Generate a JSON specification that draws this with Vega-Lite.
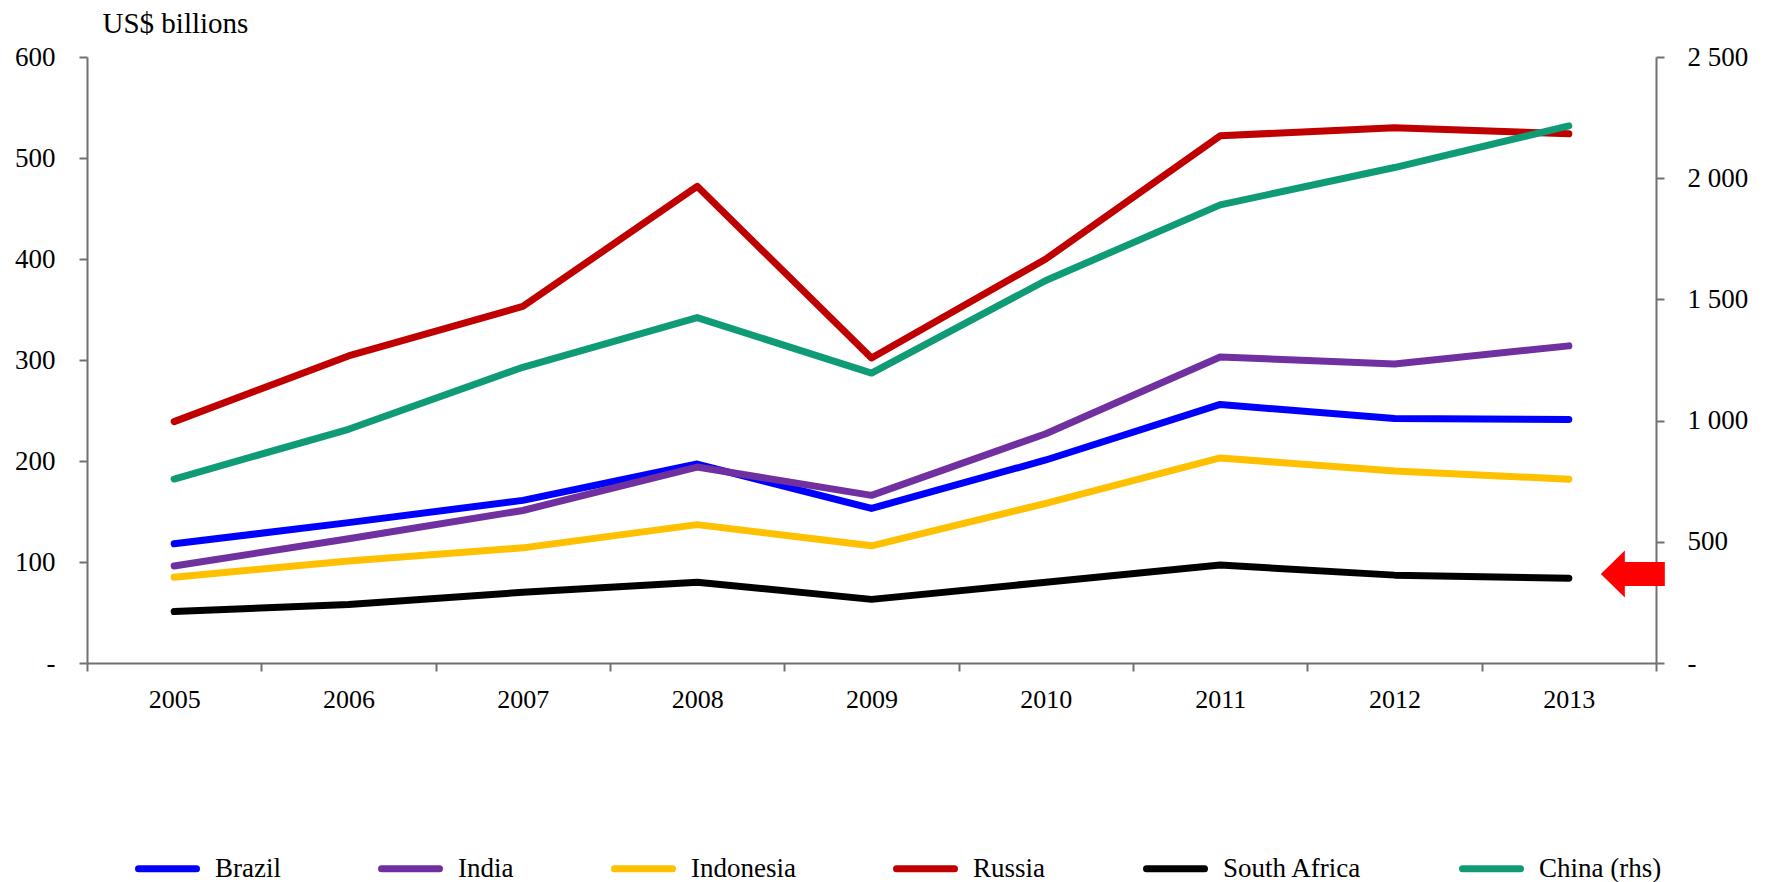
{
  "$schema": "https://vega.github.io/schema/vega-lite/v6.json",
  "autosize": {"type": "none"},
  "width": 1569,
  "height": 606,
  "padding": {"left": 87, "top": 57, "right": 110, "bottom": 219},
  "background": "white",
  "config": {
    "view": {"stroke": null},
    "font": "Liberation Serif",
    "axis": {
      "labelFont": "Liberation Serif",
      "labelFontSize": 27,
      "labelColor": "#000000",
      "domainColor": "#707070",
      "domainWidth": 2,
      "tickColor": "#707070",
      "tickWidth": 2,
      "tickSize": 8,
      "grid": false,
      "titleFont": "Liberation Serif"
    }
  },
  "datasets": {
    "left": [
      {"year": "2005", "country": "Brazil", "value": 118},
      {"year": "2006", "country": "Brazil", "value": 139},
      {"year": "2007", "country": "Brazil", "value": 161},
      {"year": "2008", "country": "Brazil", "value": 197},
      {"year": "2009", "country": "Brazil", "value": 153},
      {"year": "2010", "country": "Brazil", "value": 201},
      {"year": "2011", "country": "Brazil", "value": 256},
      {"year": "2012", "country": "Brazil", "value": 242},
      {"year": "2013", "country": "Brazil", "value": 241},
      {"year": "2005", "country": "India", "value": 96},
      {"year": "2006", "country": "India", "value": 123},
      {"year": "2007", "country": "India", "value": 151},
      {"year": "2008", "country": "India", "value": 194},
      {"year": "2009", "country": "India", "value": 166},
      {"year": "2010", "country": "India", "value": 227},
      {"year": "2011", "country": "India", "value": 303},
      {"year": "2012", "country": "India", "value": 296},
      {"year": "2013", "country": "India", "value": 314},
      {"year": "2005", "country": "Indonesia", "value": 85},
      {"year": "2006", "country": "Indonesia", "value": 101},
      {"year": "2007", "country": "Indonesia", "value": 114},
      {"year": "2008", "country": "Indonesia", "value": 137},
      {"year": "2009", "country": "Indonesia", "value": 116},
      {"year": "2010", "country": "Indonesia", "value": 158},
      {"year": "2011", "country": "Indonesia", "value": 203},
      {"year": "2012", "country": "Indonesia", "value": 190},
      {"year": "2013", "country": "Indonesia", "value": 182},
      {"year": "2005", "country": "Russia", "value": 239},
      {"year": "2006", "country": "Russia", "value": 304},
      {"year": "2007", "country": "Russia", "value": 353},
      {"year": "2008", "country": "Russia", "value": 472},
      {"year": "2009", "country": "Russia", "value": 302},
      {"year": "2010", "country": "Russia", "value": 400},
      {"year": "2011", "country": "Russia", "value": 522},
      {"year": "2012", "country": "Russia", "value": 530},
      {"year": "2013", "country": "Russia", "value": 524},
      {"year": "2005", "country": "South Africa", "value": 51},
      {"year": "2006", "country": "South Africa", "value": 58},
      {"year": "2007", "country": "South Africa", "value": 70},
      {"year": "2008", "country": "South Africa", "value": 80},
      {"year": "2009", "country": "South Africa", "value": 63},
      {"year": "2010", "country": "South Africa", "value": 80},
      {"year": "2011", "country": "South Africa", "value": 97},
      {"year": "2012", "country": "South Africa", "value": 87},
      {"year": "2013", "country": "South Africa", "value": 84}
    ],
    "china": [
      {"year": "2005", "country": "China (rhs)", "value": 759},
      {"year": "2006", "country": "China (rhs)", "value": 964},
      {"year": "2007", "country": "China (rhs)", "value": 1220},
      {"year": "2008", "country": "China (rhs)", "value": 1425},
      {"year": "2009", "country": "China (rhs)", "value": 1196},
      {"year": "2010", "country": "China (rhs)", "value": 1578},
      {"year": "2011", "country": "China (rhs)", "value": 1890},
      {"year": "2012", "country": "China (rhs)", "value": 2044},
      {"year": "2013", "country": "China (rhs)", "value": 2216}
    ],
    "arrow": [
      {"year": "2013", "value": 88}
    ]
  },
  "encoding": {
    "x": {
      "field": "year",
      "type": "ordinal",
      "bandPosition": 0.5,
      "scale": {"type": "band", "paddingInner": 0, "paddingOuter": 0},
      "axis": {
        "title": null,
        "labelAngle": 0,
        "tickBand": "extent",
        "labelPadding": 15,
        "labelFontSize": 26
      }
    }
  },
  "layer": [
    {
      "layer": [
        {
          "data": {"name": "left"},
          "mark": {"type": "line", "strokeCap": "round", "strokeJoin": "round"},
          "encoding": {
            "y": {
              "field": "value",
              "type": "quantitative",
              "scale": {"domain": [0, 600], "nice": false, "zero": true},
              "axis": {
                "orient": "left",
                "values": [0, 100, 200, 300, 400, 500, 600],
                "labelExpr": "datum.value == 0 ? '-' : replace(format(datum.value, ','), ',', ' ')",
                "labelPadding": 24,
                "title": "US$ billions",
                "titleAngle": 0,
                "titleAlign": "left",
                "titleBaseline": "alphabetic",
                "titleX": 15,
                "titleY": -25,
                "titleFontSize": 29,
                "titleFontWeight": "normal",
                "titleColor": "#000000"
              }
            },
            "color": {
              "field": "country",
              "type": "nominal",
              "scale": {
                "domain": ["Brazil", "India", "Indonesia", "Russia", "South Africa", "China (rhs)"],
                "range": ["#0000FF", "#7030A0", "#FFC000", "#C00000", "#000000", "#109B77"]
              },
              "legend": {
                "orient": "none",
                "legendX": 48,
                "legendY": 779,
                "direction": "horizontal",
                "columns": 6,
                "title": null,
                "symbolType": "stroke",
                "symbolSize": 3364,
                "symbolStrokeWidth": 7,
                "labelFont": "Liberation Serif",
                "labelFontSize": 27,
                "labelColor": "#000000",
                "labelOffset": 15,
                "labelLimit": 300,
                "columnPadding": 86,
                "encode": {
                  "symbols": {
                    "update": {
                      "strokeCap": {"value": "round"},
                      "strokeWidth": {"signal": "datum.value == 'South Africa' ? 10 : 7"}
                    }
                  }
                }
              }
            },
            "strokeWidth": {
              "field": "country",
              "type": "nominal",
              "scale": {
                "domain": ["Brazil", "India", "Indonesia", "Russia", "South Africa", "China (rhs)"],
                "range": [7, 7, 7, 7, 9.5, 7]
              },
              "legend": null
            }
          }
        },
        {
          "data": {"name": "arrow"},
          "mark": {
            "type": "point",
            "shape": "M 32 0 L 56 -23.5 L 56 -12 L 96 -12 L 96 12 L 56 12 L 56 23.5 Z",
            "size": 4,
            "filled": true,
            "fill": "#FF0000",
            "stroke": null,
            "opacity": 1
          },
          "encoding": {
            "y": {"field": "value", "type": "quantitative"}
          }
        }
      ]
    },
    {
      "data": {"name": "china"},
      "mark": {"type": "line", "strokeCap": "round", "strokeJoin": "round"},
      "encoding": {
        "y": {
          "field": "value",
          "type": "quantitative",
          "scale": {"domain": [0, 2500], "nice": false, "zero": true},
          "axis": {
            "orient": "right",
            "values": [0, 500, 1000, 1500, 2000, 2500],
            "labelExpr": "datum.value == 0 ? '-' : replace(format(datum.value, ','), ',', ' ')",
            "labelPadding": 23,
            "title": null
          }
        },
        "color": {"field": "country", "type": "nominal"},
        "strokeWidth": {"field": "country", "type": "nominal", "legend": null}
      }
    }
  ],
  "resolve": {"scale": {"y": "independent", "color": "shared", "strokeWidth": "shared"}}
}
